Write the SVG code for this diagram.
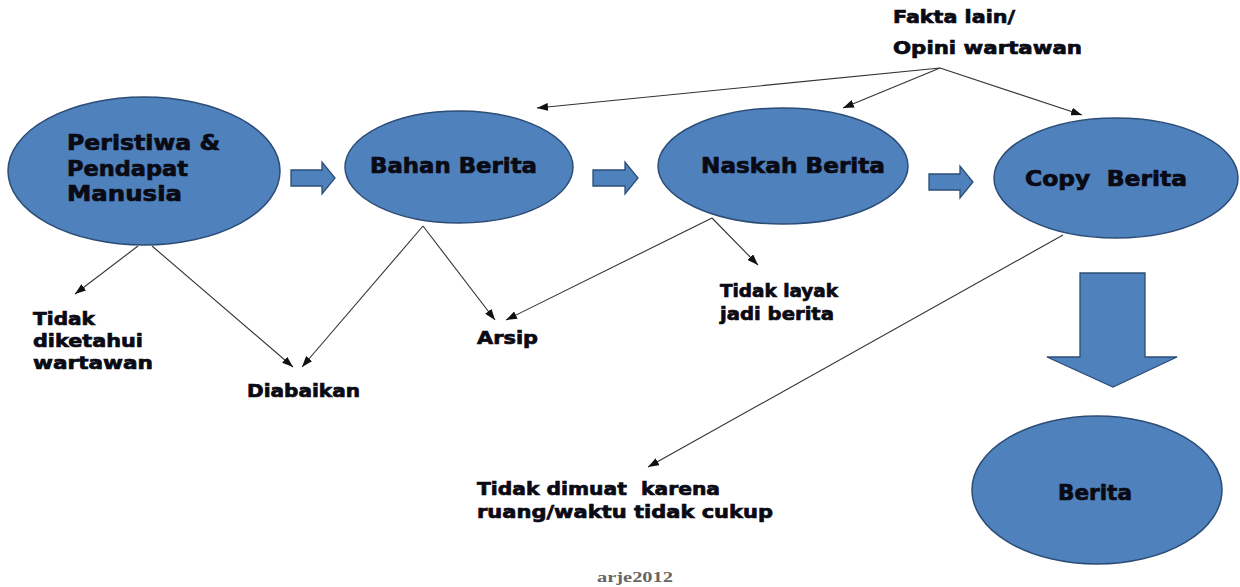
<svg xmlns="http://www.w3.org/2000/svg" width="1240" height="587" viewBox="0 0 1240 587">
<style>
.node{fill:#4F81BD;stroke:#2C4D75;stroke-width:1.5}
.blk{fill:#4F81BD;stroke:#2C4D75;stroke-width:1.3}
.t{font-family:"DejaVu Sans",Verdana,sans-serif;font-weight:bold;fill:#0a0a14;stroke:#0a0a14;stroke-width:0.7;white-space:pre}
.nt{font-size:21px}
.lt{font-size:18px}
.con{stroke:#333;stroke-width:1.1;fill:none;marker-end:url(#ah)}
.sig{font-family:"Liberation Serif",serif;font-weight:bold;font-size:15px;fill:#666}
</style>
<defs>
<marker id="ah" markerUnits="userSpaceOnUse" markerWidth="11" markerHeight="8" refX="11" refY="4" orient="auto">
<path d="M0,0 L11,4 L0,8 z" fill="#111"/>
</marker>
</defs>
<rect width="1240" height="587" fill="#fff"/>
<g id="connectors">
<line class="con" x1="940" y1="68" x2="537" y2="108"/>
<line class="con" x1="940" y1="68" x2="843" y2="108"/>
<line class="con" x1="940" y1="68" x2="1082" y2="115"/>
<line class="con" x1="138" y1="246" x2="75" y2="294"/>
<line class="con" x1="152" y1="246" x2="293" y2="367"/>
<line class="con" x1="423" y1="226" x2="302" y2="367"/>
<line class="con" x1="423" y1="226" x2="495" y2="320"/>
<line class="con" x1="712" y1="218" x2="506" y2="320"/>
<line class="con" x1="712" y1="218" x2="758" y2="265"/>
<line class="con" x1="1063" y1="235" x2="648" y2="467"/>
<path id="arrow1" class="blk" d="M291,170 H322 V162 L335,178 L322,194 V186 H291 Z"/>
<path id="arrow2" class="blk" d="M593,170 H625 V162 L638,178 L625,194 V186 H593 Z"/>
<path id="arrow3" class="blk" d="M929,174 H960 V166 L973,182 L960,198 V190 H929 Z"/>
<path id="arrow4" class="blk" d="M1080,273 H1145 V357 H1177 L1113,387 L1047,357 H1080 Z"/>
</g>
<g id="peristiwa">
<ellipse class="node" cx="144" cy="171" rx="136" ry="74"/>
<text class="t nt" x="67" y="150" textLength="153" lengthAdjust="spacingAndGlyphs">Peristiwa &amp;</text>
<text class="t nt" x="67" y="176" textLength="121" lengthAdjust="spacingAndGlyphs">Pendapat</text>
<text class="t nt" x="67" y="201" textLength="115" lengthAdjust="spacingAndGlyphs">Manusia</text>
</g>
<g id="bahan">
<ellipse class="node" cx="459" cy="167" rx="114" ry="56"/>
<text class="t nt" x="370" y="173" textLength="167" lengthAdjust="spacingAndGlyphs">Bahan Berita</text>
</g>
<g id="naskah">
<ellipse class="node" cx="783" cy="166" rx="125" ry="58"/>
<text class="t nt" x="701" y="173" textLength="184" lengthAdjust="spacingAndGlyphs">Naskah Berita</text>
</g>
<g id="copy">
<ellipse class="node" cx="1116" cy="178" rx="122" ry="60"/>
<text class="t nt" x="1025" y="186" textLength="162" lengthAdjust="spacingAndGlyphs">Copy  Berita</text>
</g>
<g id="berita">
<ellipse class="node" cx="1097" cy="490" rx="125" ry="74"/>
<text class="t nt" x="1058" y="500" textLength="74" lengthAdjust="spacingAndGlyphs">Berita</text>
</g>
<g id="fakta">
<text class="t lt" x="893" y="23" textLength="122" lengthAdjust="spacingAndGlyphs">Fakta lain/</text>
<text class="t lt" x="893" y="54" textLength="189" lengthAdjust="spacingAndGlyphs">Opini wartawan</text>
</g>
<g id="tidak-diketahui">
<text class="t lt" x="33" y="325" textLength="62" lengthAdjust="spacingAndGlyphs">Tidak</text>
<text class="t lt" x="33" y="347" textLength="110" lengthAdjust="spacingAndGlyphs">diketahui</text>
<text class="t lt" x="33" y="369" textLength="120" lengthAdjust="spacingAndGlyphs">wartawan</text>
</g>
<g id="diabaikan">
<text class="t lt" x="247" y="397" textLength="113" lengthAdjust="spacingAndGlyphs">Diabaikan</text>
</g>
<g id="arsip">
<text class="t lt" x="477" y="344" textLength="61" lengthAdjust="spacingAndGlyphs">Arsip</text>
</g>
<g id="tidak-layak">
<text class="t lt" x="720" y="297" textLength="118" lengthAdjust="spacingAndGlyphs">Tidak layak</text>
<text class="t lt" x="720" y="320" textLength="114" lengthAdjust="spacingAndGlyphs">jadi berita</text>
</g>
<g id="tidak-dimuat">
<text class="t lt" x="477" y="495" textLength="243" lengthAdjust="spacingAndGlyphs">Tidak dimuat  karena</text>
<text class="t lt" x="477" y="518" textLength="296" lengthAdjust="spacingAndGlyphs">ruang/waktu tidak cukup</text>
</g>
<text class="sig" x="597" y="582" textLength="76" lengthAdjust="spacingAndGlyphs">arje2012</text>
</svg>
